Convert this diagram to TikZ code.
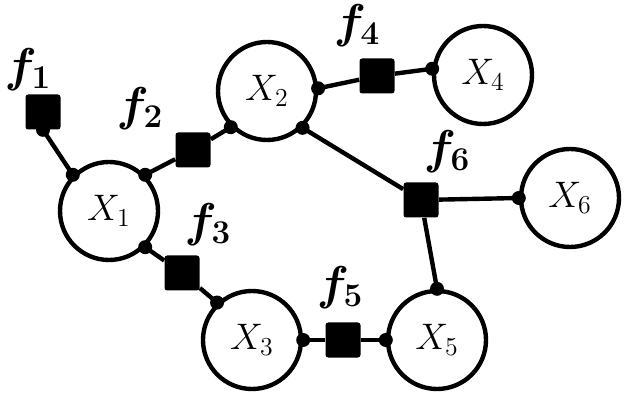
\documentclass[tikz,border=0pt]{standalone}
\usepackage{fix-cm}
\usetikzlibrary{positioning}

\tikzset{
  var/.style={draw,circle,line width=2.5pt,minimum size=1.96cm,inner sep=0pt,
              font=\fontsize{21}{25}\selectfont},
  factor/.style={fill=black,rounded corners=1.5pt,minimum size=0.7cm,inner sep=0pt},
  flab/.style={font=\fontsize{27}{31}\selectfont\boldmath},
  edge/.style={line width=2.5pt},
}

\begin{document}
\begin{tikzpicture}
        \useasboundingbox (0,0) rectangle (12.48,8);
        % variables
        \node[var] (X1) at (2.18,3.78) {$X_1$};
        \node[var] (X2) at (5.34,6.18) {$X_2$};
        \node[var] (X3) at (5.04,1.20) {$X_3$};
        \node[var] (X4) at (9.66,6.50) {$X_4$};
        \node[var] (X5) at (8.74,1.20) {$X_5$};
        \node[var] (X6) at (11.40,4.04) {$X_6$};
        % factors
        \node[factor] (f1) at (0.86,5.76) {};
        \node[factor] (f2) at (3.86,5.00) {};
        \node[factor] (f3) at (3.64,2.54) {};
        \node[factor] (f4) at (7.54,6.48) {};
        \node[factor] (f5) at (6.86,1.20) {};
        \node[factor] (f6) at (8.42,4.00) {};
        \node[flab] (f1lab) at (0.56,6.60) {$f_1$};
        \node[flab] (f2lab) at (2.80,5.82) {$f_2$};
        \node[flab] (f3lab) at (4.16,3.50) {$f_3$};
        \node[flab] (f4lab) at (7.14,7.48) {$f_4$};
        \node[flab] (f5lab) at (6.80,2.24) {$f_5$};
        \node[flab] (f6lab) at (8.94,4.96) {$f_6$};
        % edges, with a dot at each end
        \foreach \v/\a/\f in {X1/135/f1.south, X1/45/f2, X1/-45/f3,
                              X2/225/f2, X2/3/f4, X2/-46/f6,
                              X4/173/f4, X3/133/f3, X3/0/f5,
                              X5/180/f5, X5/90/f6, X6/180/f6} {
          \draw[edge] (\v.\a) -- (\f);
          \fill (\v.\a) circle (0.14);
          \fill (\f) circle (0.14);
        }
      \end{tikzpicture}
\end{document}
